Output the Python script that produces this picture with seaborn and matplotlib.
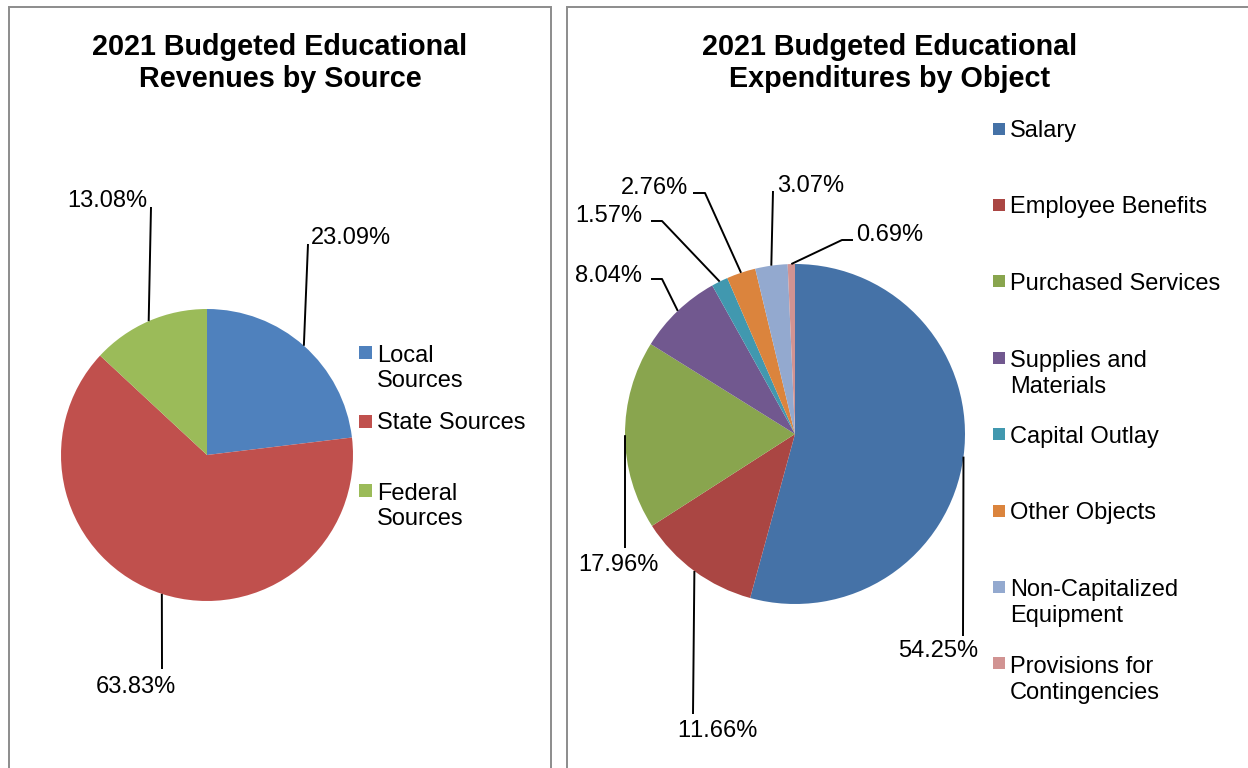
import matplotlib
matplotlib.use("Agg")
import matplotlib.pyplot as plt
from matplotlib.patches import Rectangle
import numpy as np
import seaborn as sns

# ---- data -------------------------------------------------------------
revenue_sources = ["Local\nSources", "State Sources", "Federal\nSources"]
revenue_share = [23.09, 63.83, 13.08]
revenue_colors = ["#4F81BD", "#C0504D", "#9BBB59"]

expense_objects = ["Salary", "Employee Benefits", "Purchased Services",
                   "Supplies and\nMaterials", "Capital Outlay", "Other Objects",
                   "Non-Capitalized\nEquipment", "Provisions for\nContingencies"]
expense_share = [54.25, 11.66, 17.96, 8.04, 1.57, 2.76, 3.07, 0.69]
expense_colors = ["#4572A7", "#AA4643", "#89A54E", "#71588F",
                  "#4198AF", "#DB843D", "#93A9CF", "#D19392"]

revenue_title = "2021 Budgeted Educational\nRevenues by Source"
expense_title = "2021 Budgeted Educational\nExpenditures by Object"

# ---- canvas (one axes in pixel units, y measured from the top) ---------
W, H = 1248, 768
sns.set_theme(style="white")
plt.rcParams["font.family"] = ["Liberation Sans", "DejaVu Sans"]
try:
    plt.rcParams["text.kerning_factor"] = 6
except KeyError:
    pass

fig = plt.figure(figsize=(W / 100, H / 100), dpi=100)
ax = fig.add_axes([0, 0, 1, 1])

LABEL_PT = 17
TITLE_PT = 20.7
EM = LABEL_PT * 100 / 72
TITLE_EM = TITLE_PT * 100 / 72


def Y(y):
    return H - y


def baseline(y_mid, em=EM):
    # visual centre of digits/capitals -> text baseline
    return y_mid + 0.358 * em


def draw_pie(values, colors, center, radius, labels_layout):
    wedges, _ = ax.pie(values, colors=sns.color_palette(colors),
                       startangle=90, counterclock=False,
                       center=(center[0], Y(center[1])), radius=radius,
                       wedgeprops=dict(linewidth=0))
    for w, v, lay in zip(wedges, values, labels_layout):
        mid = np.deg2rad((w.theta1 + w.theta2) / 2)
        sx = w.center[0] + w.r * np.cos(mid)
        sy = w.center[1] + w.r * np.sin(mid)
        xs = [sx] + [p[0] for p in lay["path"]]
        ys = [sy] + [Y(p[1]) for p in lay["path"]]
        ax.plot(xs, ys, color="black", lw=1.4, solid_capstyle="butt", zorder=3)
        tx, ty = lay["xy"]
        ax.text(tx, Y(baseline(ty)), f"{v:.2f}%", ha=lay["ha"], va="baseline",
                fontsize=LABEL_PT, color="black")


LEGEND_LINE = 27  # px between legend text lines


def draw_legend(labels, colors, x_box, x_text, y_first, step, box):
    for i, (lab, col) in enumerate(zip(labels, colors)):
        yc = y_first + i * step
        ax.add_patch(Rectangle((x_box, Y(yc) - box / 2), box, box,
                               facecolor=col, edgecolor="none"))
        # multi-line text is anchored on the baseline of its last line
        y_last = yc + LEGEND_LINE * lab.count("\n")
        ax.text(x_text, Y(baseline(y_last)), lab, ha="left", va="baseline",
                fontsize=LABEL_PT, color="black", linespacing=1.23)


# panel frames
for x0, x1 in [(9, 551), (567, 1300)]:
    ax.add_patch(Rectangle((x0, Y(800)), x1 - x0, 800 - 7, fill=False,
                           edgecolor="#8C8C8C", lw=1.4, zorder=5))

# revenues
draw_pie(revenue_share, revenue_colors, center=(207, 455), radius=146,
         labels_layout=[
             dict(path=[(308, 244)], xy=(311, 236), ha="left"),
             dict(path=[(162, 669)], xy=(136, 685), ha="center"),
             dict(path=[(151, 207)], xy=(147, 199), ha="right"),
         ])
draw_legend(revenue_sources, revenue_colors, x_box=359, x_text=377,
            y_first=352, step=69, box=13)

# expenditures
draw_pie(expense_share, expense_colors, center=(795, 434), radius=170,
         labels_layout=[
             dict(path=[(963, 636)], xy=(938, 649), ha="center"),
             dict(path=[(693, 714)], xy=(717, 729), ha="center"),
             dict(path=[(625, 548)], xy=(618, 563), ha="center"),
             dict(path=[(662, 279), (651, 279)], xy=(642, 274), ha="right"),
             dict(path=[(662, 221), (651, 221)], xy=(642, 214), ha="right"),
             dict(path=[(705, 193), (693, 193)], xy=(688, 186), ha="right"),
             dict(path=[(773, 191)], xy=(777, 184), ha="left"),
             dict(path=[(842, 240), (853, 240)], xy=(856, 233), ha="left"),
         ])
draw_legend(expense_objects, expense_colors, x_box=993, x_text=1010,
            y_first=128.5, step=76.4, box=12)

# titles (two lines, anchored on the second line's baseline)
for cx, title in [(280, revenue_title), (890, expense_title)]:
    ax.text(cx, Y(baseline(77, TITLE_EM)), title, ha="center", va="baseline",
            fontsize=TITLE_PT, fontweight="bold", color="black",
            linespacing=1.19, multialignment="center")

ax.set_xlim(0, W)
ax.set_ylim(0, H)
ax.set_aspect("equal")
ax.axis("off")

fig.savefig("out.png", dpi=100, facecolor="white")
